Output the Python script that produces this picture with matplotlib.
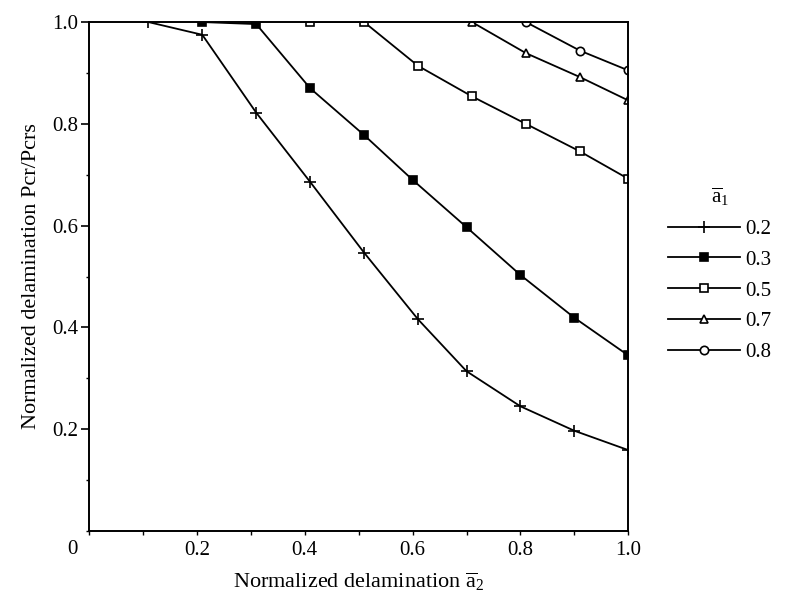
import numpy as np
import matplotlib
matplotlib.use('Agg')
import matplotlib.pyplot as plt
from matplotlib.ticker import MultipleLocator

plt.rcParams['font.family'] = ['Liberation Serif', 'DejaVu Serif']
plt.rcParams['mathtext.fontset'] = 'custom'
plt.rcParams['mathtext.rm'] = 'Liberation Serif'
plt.rcParams['mathtext.it'] = 'Liberation Serif'

# a1 = 0.2
x_02 = [0.11, 0.21, 0.31, 0.41, 0.51, 0.61, 0.70, 0.80, 0.90, 1.0]
y_02 = [1.0, 0.975, 0.822, 0.686, 0.547, 0.416, 0.314, 0.245, 0.197, 0.159]
# a1 = 0.3
x_03 = [0.21, 0.31, 0.41, 0.51, 0.60, 0.70, 0.80, 0.90, 1.0]
y_03 = [1.0, 0.996, 0.870, 0.778, 0.690, 0.597, 0.503, 0.419, 0.345]
# a1 = 0.5
x_05 = [0.41, 0.51, 0.61, 0.71, 0.81, 0.91, 1.0]
y_05 = [1.0, 1.0, 0.914, 0.854, 0.800, 0.746, 0.692]
# a1 = 0.7
x_07 = [0.71, 0.81, 0.91, 1.0]
y_07 = [1.0, 0.939, 0.892, 0.846]
# a1 = 0.8
x_08 = [0.81, 0.91, 1.0]
y_08 = [1.0, 0.944, 0.905]

labels = ['0.2', '0.3', '0.5', '0.7', '0.8']

fig = plt.figure(figsize=(7.85, 5.96), dpi=100)
ax = fig.add_axes([0.1134, 0.109, 0.687, 0.854])

kw = dict(color='black', linewidth=1.3, markeredgecolor='black', markeredgewidth=1.2)
ax.plot(x_02, y_02, marker='+', markersize=8, label=labels[0], **kw)
ax.plot(x_03, y_03, marker='s', markersize=6, markerfacecolor='black', label=labels[1], **kw)
ax.plot(x_05, y_05, marker='s', markersize=6, markerfacecolor='white', label=labels[2], **kw)
ax.plot(x_07, y_07, marker='^', markersize=6, markerfacecolor='white', label=labels[3], **kw)
ax.plot(x_08, y_08, marker='o', markersize=6, markerfacecolor='white', label=labels[4], **kw)

ax.set_xlim(0, 1.0)
ax.set_ylim(0, 1.0)
ax.set_xticks([0.2, 0.4, 0.6, 0.8, 1.0])
ax.set_xticklabels(['0.2', '0.4', '0.6', '0.8', '1.0'])
ax.set_yticks([0.2, 0.4, 0.6, 0.8, 1.0])
ax.set_yticklabels(['0.2', '0.4', '0.6', '0.8', '1.0'])
ax.xaxis.set_minor_locator(MultipleLocator(0.1))
ax.yaxis.set_minor_locator(MultipleLocator(0.1))
ax.tick_params(axis='y', which='major', direction='out', length=6, width=1.2, labelsize=15, pad=2)
ax.tick_params(axis='y', which='minor', direction='out', length=2.5, width=1.0)
ax.tick_params(axis='x', which='both', direction='out', length=3, width=1.0, labelsize=15, pad=4)
for s in ax.spines.values():
    s.set_linewidth(1.4)

ax.text(-0.03, -0.018, '0', transform=ax.transAxes, ha='center', va='top', fontsize=15)

ax.set_xlabel(r'Normalized delamination $\overline{\mathrm{a}}_2$', fontsize=16, labelpad=8)
ax.set_ylabel('Normalized delamination Pcr/Pcrs', fontsize=16, labelpad=8)

leg = ax.legend(loc='upper left', bbox_to_anchor=(1.039, 0.715), frameon=False,
                title=r'$\overline{\mathrm{a}}_1$', fontsize=15, title_fontsize=15,
                handlelength=3.45, labelspacing=0.54, handletextpad=0.25)

fig.savefig('out.png', dpi=100)
